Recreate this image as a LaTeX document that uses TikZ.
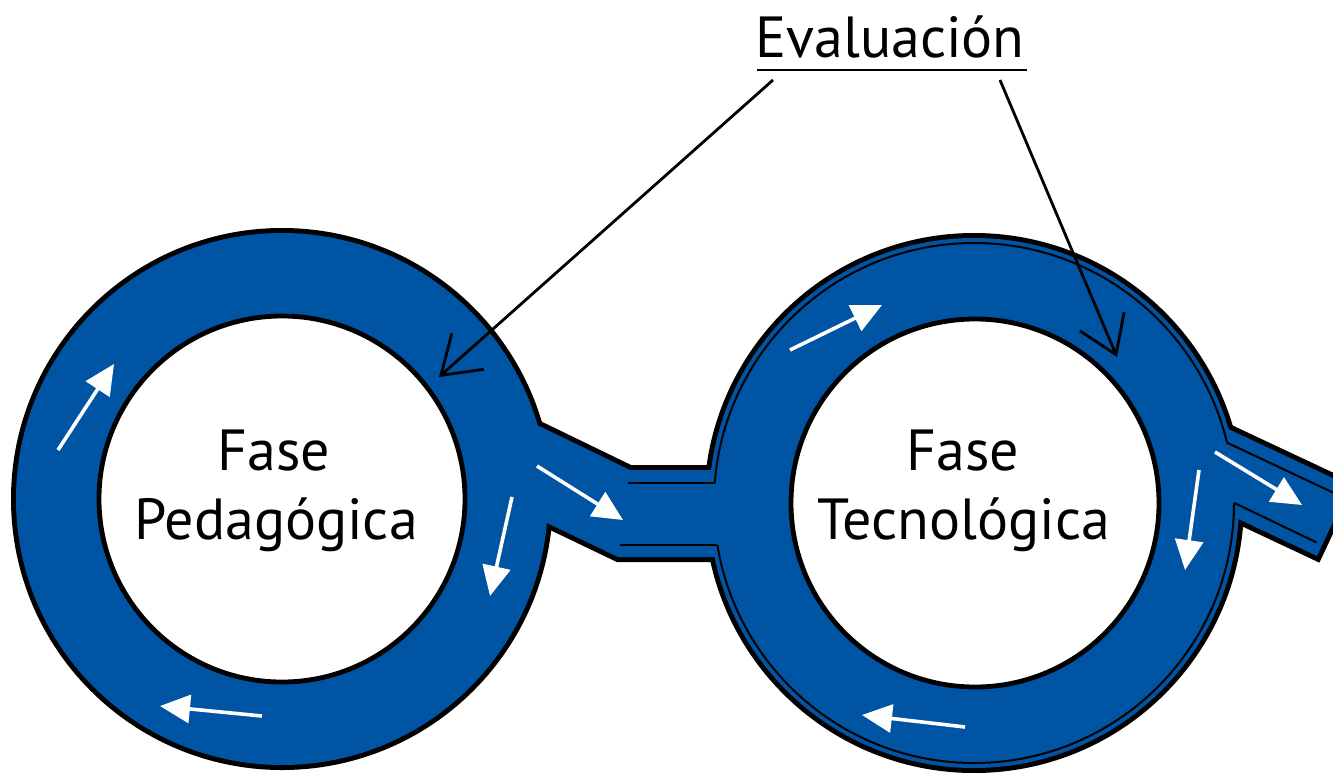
\documentclass[tikz,border=0pt]{standalone}
\usepackage{fontspec}
\setmainfont{PT Sans}
\usetikzlibrary{arrows.meta}
\definecolor{ringblue}{HTML}{0054A4}
\begin{document}
\begin{tikzpicture}[x=0.5pt,y=-0.5pt,
  outerline/.style={draw=black,line width=5pt},
  ringfill/.style={fill=ringblue},
  thinline/.style={draw=black,line width=1pt},
  holeline/.style={draw=black,line width=2.4pt,fill=white},
  flow/.style={draw=white,line width=1.8pt,-{Triangle[length=15pt,width=14pt]}},
  pointer/.style={draw=black,line width=1.4pt,-{Straight Barb[length=18pt,width=24pt]}},
  label/.style={font=\fontsize{29}{34}\selectfont,anchor=base,inner sep=0pt},
  title/.style={font=\fontsize{29}{34}\selectfont,anchor=base,inner sep=0pt}]
\useasboundingbox (0,0) rectangle (1333,772);
\fill[white] (0,0) rectangle (1333,772);
\clip (0,0) rectangle (1333,772);

% outlines (outer halves remain visible)
\path[outerline] (282,499) circle[radius=133pt];
\path[outerline] (974,503) circle[radius=132.5pt];
\path[outerline] (500,407) -- (630,470) -- (760,470) -- (760,557) -- (618,557) -- (500,500.5) -- cycle;
\path[outerline] (1190,411) -- (1349.8,486) -- (1317,556) -- (1190,496.3) -- cycle;

% blue body
\path[ringfill] (282,499) circle[radius=133pt];
\path[ringfill] (974,503) circle[radius=132.5pt];
\path[ringfill] (500,407) -- (630,470) -- (760,470) -- (760,557) -- (618,557) -- (500,500.5) -- cycle;
\path[ringfill] (1190,411) -- (1349.8,486) -- (1317,556) -- (1190,496.3) -- cycle;

% double line of the right ring
\begin{scope}
\clip (600,200) -- (1400,200) -- (1400,524.0) -- (1100,383.0) -- (1100,440.6) -- (1400,581.7)
      -- (1400,800) -- (600,800) -- (600,545) -- (850,545) -- (850,483) -- (600,483) -- cycle;
\path[thinline] (974,503) circle[radius=130pt];
\end{scope}
\path[thinline] (628,483) -- (714.8,483);
\path[thinline] (620,545) -- (717.4,545);
\path[thinline] (1226.9,442.6) -- (1345,498.2);
\path[thinline] (1234,502.8) -- (1316.7,542.5);

% holes
\path[holeline] (282,499) circle[radius=91.5pt];
\path[holeline] (975,503) circle[radius=92pt];

% flow arrows
\draw[flow] (58,450) -- (114,364);
\draw[flow] (512,497) -- (490,596);
\draw[flow] (262,716) -- (160,706);
\draw[flow] (537,466) -- (623,520);
\draw[flow] (790,350) -- (882,305);
\draw[flow] (1199,470) -- (1185,570);
\draw[flow] (965,727) -- (862,715);
\draw[flow] (1215,452) -- (1302,505);

% labels
\node[label] (fase1) at (274,470) {Fase};
\node[label] (ped) at (276,539) {Pedagógica};
\node[label] (fase2) at (963,470) {Fase};
\node[label] (tec) at (964,539) {Tecnológica};

% title and pointers
\node[title] (eval) at (890,57) {Evaluación};
\path[draw=black,line width=1.3pt] (757,70) -- (1027,70);
\coordinate (s1) at (773,80);
\coordinate (t1) at (439,377);
\coordinate (s2) at (1000,80);
\coordinate (t2) at (1117,357);
\draw[pointer] (s1) -- (t1);
\draw[pointer] (s2) -- (t2);
\end{tikzpicture}
\end{document}
